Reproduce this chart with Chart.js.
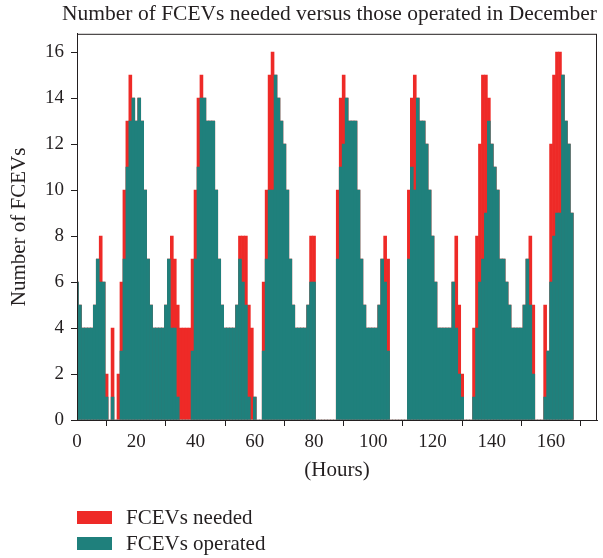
<!DOCTYPE html>
<html>
<head>
<meta charset="utf-8">
<script src="https://cdn.jsdelivr.net/npm/chart.js@4.4.1/dist/chart.umd.min.js"></script>
<style>
  html, body { margin: 0; padding: 0; background: #fff; }
  #wrap { position: relative; width: 603px; height: 558px; }
  .legend-row {
    position: absolute; left: 77px; height: 26px;
    display: flex; align-items: center;
    font-family: 'Liberation Serif', 'Times New Roman', serif;
    font-size: 21px; color: #231f20;
  }
  .legend-row .box { width: 35px; height: 13px; margin-right: 14px; }
</style>
</head>
<body>
<div id="wrap">
  <canvas id="chart" width="603" height="558"></canvas>
  <div class="legend-row" style="top:504px"><div class="box" style="background:#ee2a27"></div>FCEVs needed</div>
  <div class="legend-row" style="top:530px"><div class="box" style="background:#1f807c"></div>FCEVs operated</div>
</div>
<script>
// Данные: по часам за неделю декабря (0..167)
const needed = [
    6, 5, 4, 4, 4, 4, 5, 7, 8, 6, 2, 0, 4, 0, 2, 6, 10, 13, 15, 14, 13, 14, 13, 10,
    7, 5, 4, 4, 4, 4, 5, 7, 8, 7, 5, 4, 4, 4, 4, 7, 10, 14, 15, 14, 13, 13, 13, 10,
    7, 5, 4, 4, 4, 4, 5, 8, 8, 8, 5, 4, 1, 0, 0, 6, 10, 15, 16, 15, 14, 13, 12, 10,
    7, 5, 4, 4, 4, 4, 5, 8, 8, 0, 0, 0, 0, 0, 0, 0, 10, 14, 15, 14, 13, 13, 13, 10,
    7, 5, 4, 4, 4, 4, 5, 7, 8, 7, 0, 0, 0, 0, 0, 0, 10, 14, 15, 14, 13, 13, 12, 10,
    8, 6, 4, 4, 4, 4, 4, 6, 8, 5, 2, 0, 0, 0, 4, 8, 12, 15, 15, 14, 12, 11, 10, 7,
    7, 6, 5, 4, 4, 4, 4, 5, 7, 8, 5, 0, 0, 0, 5, 3, 12, 15, 16, 16, 15, 13, 12, 9
];
const operated = [
    6, 5, 4, 4, 4, 4, 5, 7, 6, 6, 1, 0, 1, 0, 0, 3, 7, 11, 13, 14, 13, 14, 13, 10,
    7, 5, 4, 4, 4, 4, 5, 7, 4, 4, 1, 0, 0, 0, 0, 3, 7, 11, 14, 14, 13, 13, 13, 10,
    7, 5, 4, 4, 4, 4, 5, 7, 6, 5, 1, 0, 1, 0, 0, 3, 7, 10, 10, 15, 14, 13, 12, 10,
    7, 5, 4, 4, 4, 4, 5, 6, 6, 0, 0, 0, 0, 0, 0, 0, 7, 11, 12, 14, 13, 13, 13, 10,
    7, 5, 4, 4, 4, 4, 5, 7, 6, 3, 0, 0, 0, 0, 0, 0, 7, 11, 10, 14, 13, 13, 12, 10,
    8, 6, 4, 4, 4, 4, 4, 6, 4, 2, 1, 0, 0, 0, 1, 4, 6, 7, 9, 13, 12, 11, 10, 7,
    7, 6, 5, 4, 4, 4, 4, 5, 7, 5, 2, 0, 0, 0, 1, 3, 6, 8, 9, 9, 15, 13, 12, 9
];
const hours = needed.map((_, i) => i);
const xTicks = [0, 20, 40, 60, 80, 100, 120, 140, 160];
const yTicks = [0, 2, 4, 6, 8, 10, 12, 14, 16];

const serif = "'Liberation Serif', 'Times New Roman', serif";
const ink = '#231f20';

// Рамка вокруг области графика
const frame = {
    id: 'frame',
    afterDraw(chart) {
        const a = chart.chartArea;
        const ctx = chart.ctx;
        ctx.save();
        ctx.strokeStyle = ink;
        ctx.lineWidth = 1;
        ctx.strokeRect(a.left + 0.5, a.top + 0.5, a.right - a.left - 1, a.bottom - a.top);
        ctx.restore();
    }
};

new Chart(document.getElementById('chart'), {
    type: 'bar',
    data: {
        datasets: [
            {
                label: 'FCEVs needed',
                data: hours.map(h => ({ x: h, y: needed[h] })),
                backgroundColor: '#ee2a27',
                order: 2
            },
            {
                label: 'FCEVs operated',
                data: hours.map(h => ({ x: h, y: operated[h] })),
                backgroundColor: '#1f807c',
                order: 1
            }
        ]
    },
    options: {
        responsive: false,
        animation: false,
        layout: { padding: { left: 0, right: 6, top: 0, bottom: 73 } },
        datasets: {
            bar: { barPercentage: 1, categoryPercentage: 1, grouped: false, borderWidth: 0 }
        },
        plugins: {
            legend: { display: false },
            tooltip: { enabled: false },
            title: {
                display: true,
                text: 'Number of FCEVs needed versus those operated in December',
                font: { family: serif, size: 21.5, weight: 'normal' },
                color: ink,
                align: 'end',
                padding: { top: 1, bottom: 7 }
            }
        },
        scales: {
            x: {
                type: 'linear',
                min: 0,
                max: 175.5,
                offset: false,
                afterFit(s) { s.height = 65; },
                afterBuildTicks(s) { s.ticks = xTicks.map(v => ({ value: v })); },
                ticks: { font: { family: serif, size: 19 }, color: ink, padding: 5, maxRotation: 0 },
                grid: { drawOnChartArea: false, drawTicks: true, tickLength: 6, color: ink },
                border: { display: true, color: ink },
                title: {
                    display: true, text: '(Hours)', color: ink,
                    font: { family: serif, size: 21 }, padding: { top: 0, bottom: 2 }
                }
            },
            y: {
                min: 0,
                max: 16.8,
                afterFit(s) { s.width = 77; },
                afterBuildTicks(s) { s.ticks = yTicks.map(v => ({ value: v })); },
                ticks: { font: { family: serif, size: 19 }, color: ink, padding: 7 },
                grid: { drawOnChartArea: false, drawTicks: true, tickLength: 6, color: ink },
                border: { display: true, color: ink },
                title: {
                    display: true, text: 'Number of FCEVs', color: ink,
                    font: { family: serif, size: 21 }, padding: { top: 7, bottom: 0 }
                }
            }
        }
    },
    plugins: [frame]
});
</script>
</body>
</html>
